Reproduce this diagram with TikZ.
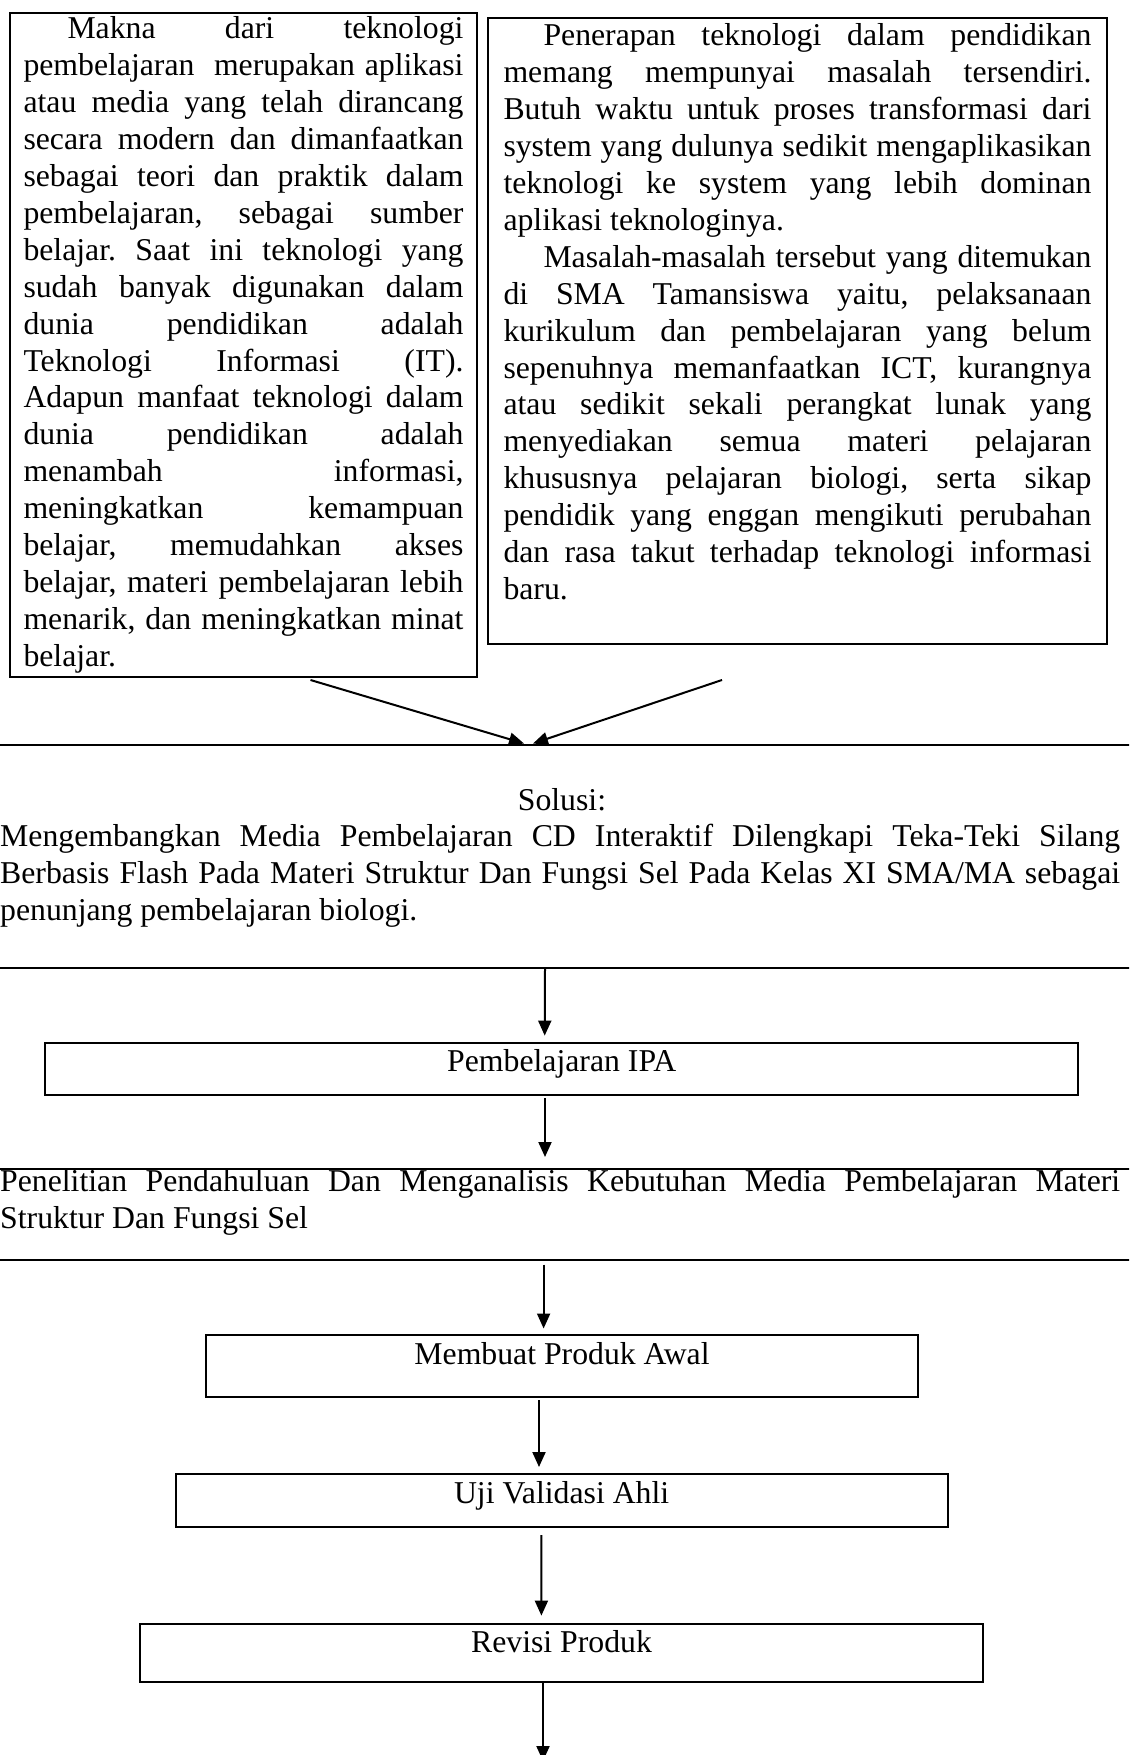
\documentclass[tikz,border=0pt]{standalone}
\usepackage{fontspec}
\setmainfont{Liberation Serif}
\usetikzlibrary{arrows.meta,calc}
\frenchspacing
\hyphenpenalty=10000
\exhyphenpenalty=10000
\tolerance=10000
\tikzset{
    teks/.style={
        font=\fontsize{31.75}{36.9}\selectfont,
        inner sep=0pt
    },
    kotak/.style={
        teks,
        draw,
        line width=2pt,
        align=justify,
        anchor=north west
    },
    kotakkecil/.style={
        teks,
        draw,
        line width=2pt,
        anchor=north
    },
    bingkai/.style={
        draw,
        line width=2pt,
        minimum width=1400pt,
        inner sep=0pt
    },
    panah/.style={
        line width=2pt,
        -{Triangle[length=15pt,width=13pt]}
    }
}

\begin{document}
\begin{tikzpicture}[x=1pt,y=-1pt]
  \useasboundingbox (0,0) rectangle (1129,1755);
  \clip (0,0) rectangle (1129,1755);

  \node at (9,12) [kotak, text width=440pt, inner xsep=13.5pt, text height=26pt, text depth=638pt] (A) {\hspace*{44pt}Makna dari teknologi\linebreak
    pembelajaran\ \ merupakan aplikasi\linebreak
    atau media yang telah dirancang\linebreak
    secara modern dan dimanfaatkan\linebreak
    sebagai teori dan praktik dalam\linebreak
    pembelajaran, sebagai sumber\linebreak
    belajar. Saat ini teknologi yang\linebreak
    sudah banyak digunakan dalam\linebreak
    dunia pendidikan adalah\linebreak
    Teknologi Informasi (IT).\linebreak
    Adapun manfaat teknologi dalam\linebreak
    dunia pendidikan adalah\linebreak
    menambah informasi,\linebreak
    meningkatkan kemampuan\linebreak
    belajar, memudahkan akses\linebreak
    belajar, materi pembelajaran lebih\linebreak
    menarik, dan meningkatkan minat\linebreak
    belajar.};

  \node at (487,17) [kotak, text width=588pt, inner xsep=15.5pt, text height=28pt, text depth=598pt] (B) {\hspace*{40pt}Penerapan teknologi dalam pendidikan\linebreak
    memang mempunyai masalah tersendiri.\linebreak
    Butuh waktu untuk proses transformasi dari\linebreak
    system yang dulunya sedikit mengaplikasikan\linebreak
    teknologi ke system yang lebih dominan\linebreak
    aplikasi teknologinya.\par
    \hspace*{40pt}Masalah-masalah tersebut yang ditemukan\linebreak
    di SMA Tamansiswa yaitu, pelaksanaan\linebreak
    kurikulum dan pembelajaran yang belum\linebreak
    sepenuhnya memanfaatkan ICT, kurangnya\linebreak
    atau sedikit sekali perangkat lunak yang\linebreak
    menyediakan semua materi pelajaran\linebreak
    khususnya pelajaran biologi, serta sikap\linebreak
    pendidik yang enggan mengikuti perubahan\linebreak
    dan rasa takut terhadap teknologi informasi\linebreak
    baru.};

  \node at (562,856.25) [bingkai, minimum height=223.5pt] (S) {};
  \node at (562,810.7) [teks, anchor=base] (Sj) {Solusi:};
  \node at (0,846.7) [teks, anchor=base west, text width=1120pt, align=justify] (Si) {Mengembangkan Media Pembelajaran CD Interaktif Dilengkapi Teka-Teki Silang\linebreak
    Berbasis Flash Pada Materi Struktur Dan Fungsi Sel Pada Kelas XI SMA/MA sebagai\linebreak
    penunjang pembelajaran biologi.};

  \node at (561.7,1041.6) [kotakkecil, minimum width=1032.6pt, text height=28.9pt, text depth=23pt] (I) {Pembelajaran IPA};

  \node at (562,1214) [bingkai, minimum height=91pt] (P) {};
  \node at (0,1191.5) [teks, anchor=base west, text width=1120pt, align=justify] (Pi) {Penelitian Pendahuluan Dan Menganalisis Kebutuhan Media Pembelajaran Materi\linebreak
    Struktur Dan Fungsi Sel};

  \node at (562,1334) [kotakkecil, minimum width=712pt, text height=29.4pt, text depth=32.6pt] (M) {Membuat Produk Awal};
  \node at (561.6,1473.4) [kotakkecil, minimum width=771.8pt, text height=29.3pt, text depth=23.1pt] (U) {Uji Validasi Ahli};
  \node at (561.5,1622.6) [kotakkecil, minimum width=842.3pt, text height=29pt, text depth=29pt] (R) {Revisi Produk};
  \coordinate (Z) at (543,1761);

  \draw[panah] ($(A.south)+(67,2)$) -- ($(S.north)+(-38,0)$);
  \draw[panah] ($(B.south)+(-75.5,35)$) -- ($(S.north)+(-29,0)$);
  \draw[panah] ($(S.south)+(-17,0)$) -- ($(I.north)+(-17,-6)$);
  \draw[panah] ($(I.south)+(-16.7,2.5)$) -- ($(P.north)+(-17,-10.5)$);
  \draw[panah] ($(P.south)+(-18.4,4)$) -- ($(M.north)+(-18.4,-5.5)$);
  \draw[panah] ($(M.south)+(-23,2)$) -- ($(U.north)+(-22.6,-6.4)$);
  \draw[panah] ($(U.south)+(-20.2,7.2)$) -- ($(R.north)+(-20.1,-7)$);
  \draw[panah] ($(R.south)+(-18.5,0)$) -- (Z);

\end{tikzpicture}
\end{document}
